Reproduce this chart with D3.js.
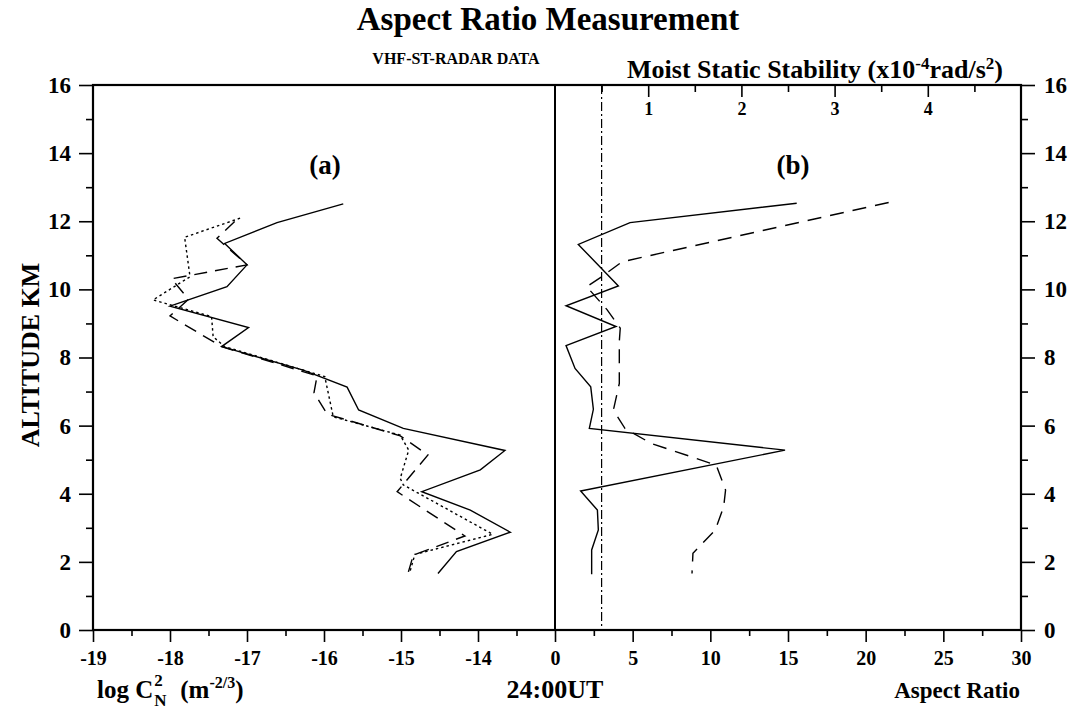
<!DOCTYPE html>
<html>
<head>
<meta charset="utf-8">
<script src="https://cdn.jsdelivr.net/npm/d3@7"></script>
<style>
  body { margin: 0; background: #fff; }
  svg text { font-family: "Liberation Serif", "Times New Roman", serif; font-weight: bold; fill: #000; }
</style>
</head>
<body>
<div id="chart"></div>
<script>
// ---- data

// panel (a): log Cn2 profiles
var altSolidA  = [12.51, 11.96, 11.35, 10.72, 10.08, 9.51, 8.88, 8.32, 7.63, 7.13, 6.46, 5.92, 5.27, 4.70, 4.06, 3.52, 2.87, 2.30, 1.66];
var cn2SolidA  = [-15.75, -16.61, -17.29, -17.0, -17.26, -18.0, -16.98, -17.33, -16.27, -15.70, -15.55, -14.97, -13.65, -13.97, -14.73, -14.10, -13.58, -14.28, -14.52];

var altDashA   = [11.99, 11.50, 11.30, 10.72, 10.31, 9.71, 9.22, 8.32, 7.46, 6.97, 6.34, 5.70, 5.14, 4.06, 2.76, 2.20, 1.66];
var cn2DashA   = [-17.16, -17.39, -17.29, -17.0, -17.98, -17.76, -18.0, -17.33, -16.09, -16.13, -15.96, -15.01, -14.65, -15.05, -14.17, -14.84, -14.91];

var altDotA    = [12.09, 11.53, 10.37, 9.69, 9.20, 8.61, 8.32, 7.44, 6.26, 5.72, 5.28, 4.45, 4.26, 2.81, 2.22, 1.66];
var cn2DotA    = [-17.09, -17.81, -17.74, -18.22, -17.46, -17.44, -17.29, -15.99, -15.88, -15.01, -14.90, -15.01, -14.97, -13.81, -14.82, -14.89];

// panel (b): aspect ratio (solid) and moist static stability (dashed)
var altAspect  = [12.53, 11.96, 11.32, 10.10, 9.52, 8.91, 8.35, 7.68, 7.14, 6.48, 5.92, 5.28, 4.08, 3.52, 2.94, 2.35, 1.64];
var aspect     = [15.56, 4.83, 1.50, 4.08, 0.71, 3.93, 0.71, 1.29, 2.30, 2.47, 2.21, 14.81, 1.65, 2.73, 2.79, 2.36, 2.36];

var altMss     = [12.55, 10.81, 10.37, 10.08, 9.40, 8.86, 8.47, 7.24, 6.50, 6.31, 5.92, 5.48, 4.84, 4.11, 3.62, 2.94, 2.25, 1.66];
var mss        = [3.58, 0.72, 0.50, 0.34, 0.56, 0.70, 0.69, 0.69, 0.63, 0.66, 0.75, 1.03, 1.73, 1.83, 1.81, 1.72, 1.48, 1.47];

var mssLimit = 0.5;

// ticks
var altTicks    = d3.range(0, 17, 2);
var altMinor    = d3.range(1, 17, 2);
var cn2Ticks    = [-19, -18, -17, -16, -15, -14];
var cn2Minor    = [-18.5, -17.5, -16.5, -15.5, -14.5, -13.5];
var aspectTicks = [0, 5, 10, 15, 20, 25, 30];
var aspectMinor = [2.5, 7.5, 12.5, 17.5, 22.5, 27.5];
var mssTicks    = [1, 2, 3, 4];
var mssMinor    = [0.5, 1.5, 2.5, 3.5, 4.5];

// ---- layout
var W = 1077, H = 710;
var pL = 93, pR = 1021, pT = 85, pB = 630, pMid = 555;

var svg = d3.select("#chart").append("svg")
    .attr("width", W)
    .attr("height", H);

var y  = d3.scaleLinear().domain([0, 16]).range([pB, pT]);
var xA = d3.scaleLinear().domain([-19, -13]).range([pL, pMid]);
var xB = d3.scaleLinear().domain([0, 30]).range([pMid, pR]);
var xM = d3.scaleLinear().domain([0, 5]).range([pMid, pR]);

function styleAxis(g, size) {
    g.select(".domain").remove();
    g.selectAll("line").attr("stroke", "#000").attr("stroke-width", 1.6);
    g.selectAll("text").attr("font-size", size + "px").attr("fill", "#000")
        .attr("font-family", "\"Liberation Serif\", serif").attr("font-weight", "bold");
}

// left altitude axis
svg.append("g").attr("transform", "translate(" + pL + ",0)")
    .call(d3.axisLeft(y).tickValues(altTicks).tickSize(14).tickPadding(8).tickFormat(d3.format("d")))
    .call(styleAxis, 23);
svg.append("g").attr("transform", "translate(" + pL + ",0)")
    .call(d3.axisLeft(y).tickValues(altMinor).tickSize(7).tickFormat(""))
    .call(styleAxis, 23);

// right altitude axis
svg.append("g").attr("transform", "translate(" + pR + ",0)")
    .call(d3.axisRight(y).tickValues(altTicks).tickSize(14).tickPadding(9).tickFormat(d3.format("d")))
    .call(styleAxis, 23);
svg.append("g").attr("transform", "translate(" + pR + ",0)")
    .call(d3.axisRight(y).tickValues(altMinor).tickSize(7).tickFormat(""))
    .call(styleAxis, 23);

// bottom axis, panel (a)
svg.append("g").attr("transform", "translate(0," + pB + ")")
    .call(d3.axisBottom(xA).tickValues(cn2Ticks).tickSize(12).tickPadding(9).tickFormat(function (d) { return "-" + Math.abs(d); }))
    .call(styleAxis, 20);
svg.append("g").attr("transform", "translate(0," + pB + ")")
    .call(d3.axisBottom(xA).tickValues(cn2Minor).tickSize(6).tickFormat(""))
    .call(styleAxis, 20);

// bottom axis, panel (b)
svg.append("g").attr("transform", "translate(0," + pB + ")")
    .call(d3.axisBottom(xB).tickValues(aspectTicks).tickSize(12).tickPadding(9).tickFormat(d3.format("d")))
    .call(styleAxis, 20);
svg.append("g").attr("transform", "translate(0," + pB + ")")
    .call(d3.axisBottom(xB).tickValues(aspectMinor).tickSize(6).tickFormat(""))
    .call(styleAxis, 20);

// top axis (moist static stability), ticks pointing inside
svg.append("g").attr("transform", "translate(0," + pT + ")")
    .call(d3.axisBottom(xM).tickValues(mssTicks).tickSize(12).tickPadding(5).tickFormat(d3.format("d")))
    .call(styleAxis, 18);
svg.append("g").attr("transform", "translate(0," + pT + ")")
    .call(d3.axisBottom(xM).tickValues(mssMinor).tickSize(7).tickFormat(""))
    .call(styleAxis, 18);

// frame and panel divider
svg.append("rect")
    .attr("x", pL).attr("y", pT)
    .attr("width", pR - pL).attr("height", pB - pT)
    .attr("fill", "none").attr("stroke", "#000").attr("stroke-width", 2.2);
svg.append("line")
    .attr("x1", pMid).attr("x2", pMid).attr("y1", pT).attr("y2", pB)
    .attr("stroke", "#000").attr("stroke-width", 2);

// threshold line
svg.append("line")
    .attr("x1", xM(mssLimit)).attr("x2", xM(mssLimit))
    .attr("y1", pT).attr("y2", pB)
    .attr("stroke", "#000").attr("stroke-width", 1.2)
    .attr("stroke-dasharray", "9,3,2,3");

// ---- profile lines
function profile(xs, alts, xScale, dash, width) {
    var pts = xs.map(function (v, i) { return [xScale(v), y(alts[i])]; });
    svg.append("path")
        .datum(pts)
        .attr("d", d3.line())
        .attr("fill", "none")
        .attr("stroke", "#000")
        .attr("stroke-width", width)
        .attr("stroke-dasharray", dash);
}

profile(cn2SolidA, altSolidA, xA, null, 1.4);
profile(cn2DashA, altDashA, xA, "13,8", 1.4);
profile(cn2DotA, altDotA, xA, "2.5,3", 1.4);
profile(aspect, altAspect, xB, null, 1.4);
profile(mss, altMss, xM, "14,9", 1.4);

// ---- texts
svg.append("text").attr("x", 548).attr("y", 30).attr("text-anchor", "middle")
    .attr("font-size", "33px").text("Aspect Ratio Measurement");
svg.append("text").attr("x", 456).attr("y", 64).attr("text-anchor", "middle")
    .attr("font-size", "16px").text("VHF-ST-RADAR DATA");

var mt = svg.append("text").attr("x", 815).attr("y", 78).attr("text-anchor", "middle")
    .attr("font-size", "26px");
mt.append("tspan").text("Moist Static Stability (x10");
mt.append("tspan").attr("dy", -9).attr("font-size", "17px").text("-4");
mt.append("tspan").attr("dy", 9).text("rad/s");
mt.append("tspan").attr("dy", -9).attr("font-size", "17px").text("2");
mt.append("tspan").attr("dy", 9).text(")");

svg.append("text").attr("x", 325).attr("y", 174).attr("text-anchor", "middle")
    .attr("font-size", "27px").text("(a)");
svg.append("text").attr("x", 793).attr("y", 174).attr("text-anchor", "middle")
    .attr("font-size", "27px").text("(b)");

svg.append("text")
    .attr("transform", "translate(39,355) rotate(-90)")
    .attr("text-anchor", "middle")
    .attr("font-size", "26px").text("ALTITUDE KM");

// log Cn2 label with stacked sub/superscript
var lx = 97, ly = 698;
var lg = svg.append("text").attr("x", lx).attr("y", ly).attr("font-size", "25px").text("log C");
var lw = lg.node().getComputedTextLength();
svg.append("text").attr("x", lx + lw + 1).attr("y", ly - 12).attr("font-size", "17px").text("2");
svg.append("text").attr("x", lx + lw + 1).attr("y", ly + 8).attr("font-size", "17px").text("N");
var un = svg.append("text").attr("x", lx + lw + 27).attr("y", ly).attr("font-size", "25px");
un.append("tspan").text("(m");
un.append("tspan").attr("dy", -10).attr("font-size", "16px").text("-2/3");
un.append("tspan").attr("dy", 10).text(")");

svg.append("text").attr("x", 555).attr("y", 698).attr("text-anchor", "middle")
    .attr("font-size", "26px").text("24:00UT");
svg.append("text").attr("x", 1020).attr("y", 698).attr("text-anchor", "end")
    .attr("font-size", "23px").text("Aspect Ratio");
</script>
</body>
</html>
